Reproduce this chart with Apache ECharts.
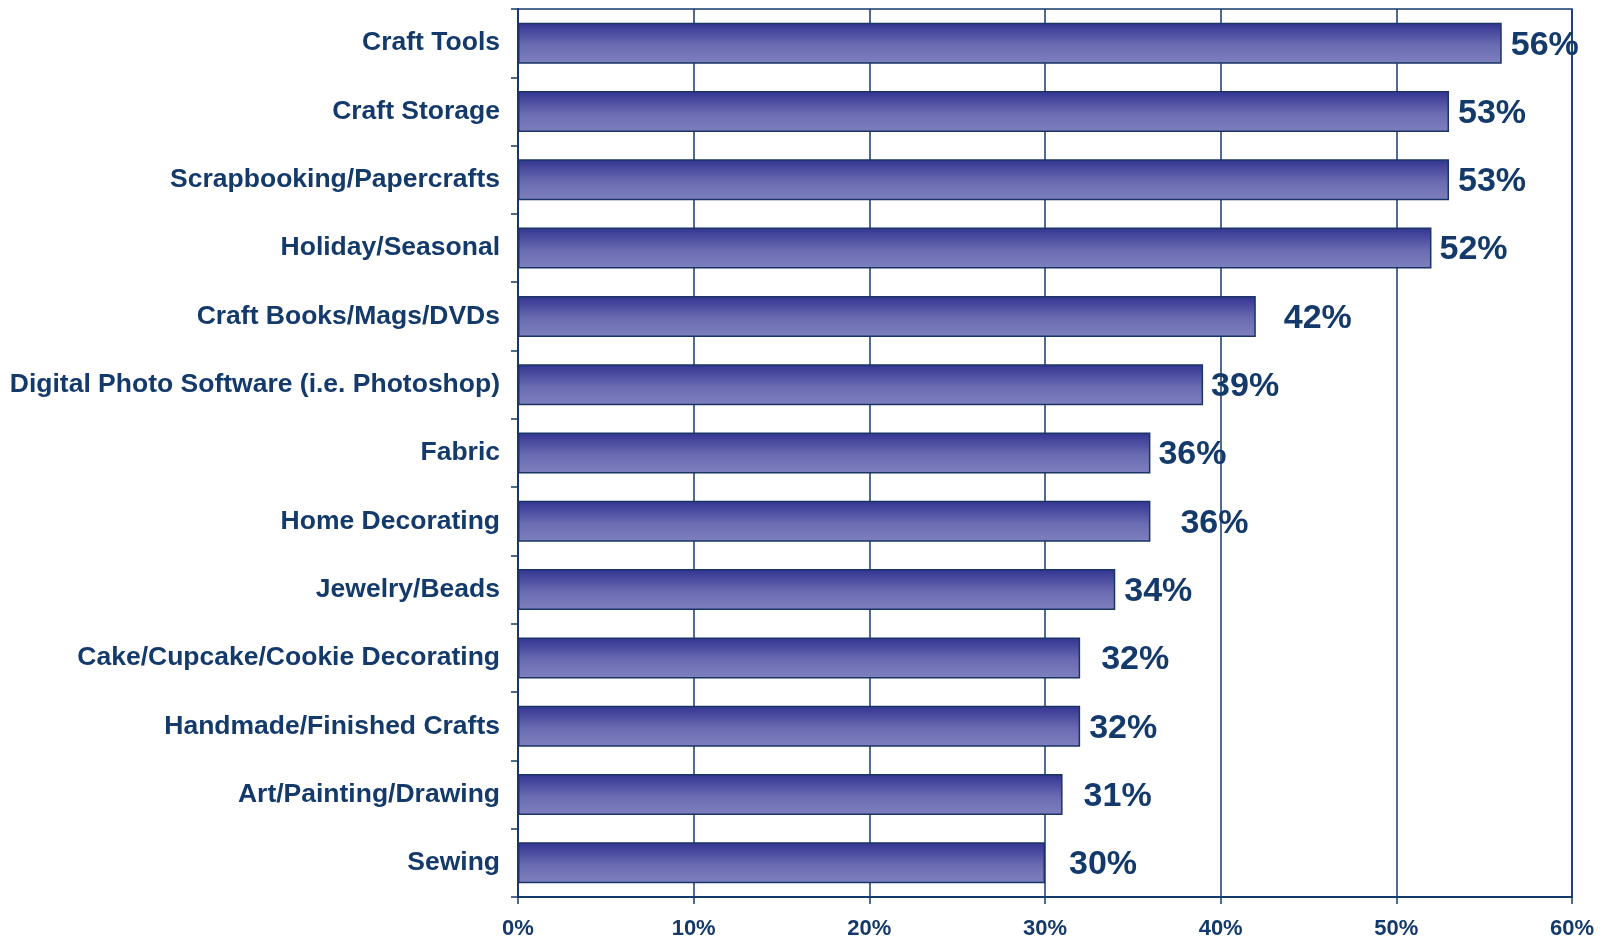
<!DOCTYPE html>
<html>
<head>
<meta charset="utf-8">
<title>Craft categories</title>
<script src="https://cdn.jsdelivr.net/npm/echarts@6/dist/echarts.min.js"></script>
<style>
  html, body { margin: 0; padding: 0; background: #ffffff; }
  #chart { width: 1604px; height: 940px; }
</style>
</head>
<body>
<div id="chart"></div>
<script>
// Categories, top to bottom
const categories = [
  'Craft Tools',
  'Craft Storage',
  'Scrapbooking/Papercrafts',
  'Holiday/Seasonal',
  'Craft Books/Mags/DVDs',
  'Digital Photo Software (i.e. Photoshop)',
  'Fabric',
  'Home Decorating',
  'Jewelry/Beads',
  'Cake/Cupcake/Cookie Decorating',
  'Handmade/Finished Crafts',
  'Art/Painting/Drawing',
  'Sewing'
];

// Share of respondents, in percent
const values = [56, 53, 53, 52, 42, 39, 36, 36, 34, 32, 32, 31, 30];

// Gap between each bar end and its value label (px)
const labelGaps = [9, 9, 9, 8, 28, 8, 8, 30, 9, 21, 9, 21, 24];

// Value axis ticks
const axisMin = 0;
const axisMax = 60;
const axisStep = 10;

const navy = '#143a6b';
const font = '"Liberation Sans", Arial, sans-serif';

const chart = echarts.init(document.getElementById('chart'), null, { renderer: 'canvas' });

chart.setOption({
  animation: false,
  backgroundColor: '#ffffff',
  grid: {
    left: 518, right: 32, top: 9, bottom: 42,
    show: true, borderColor: navy, borderWidth: 1.5, backgroundColor: 'transparent'
  },
  xAxis: {
    type: 'value',
    min: axisMin, max: axisMax, interval: axisStep,
    axisLine: { show: true, lineStyle: { color: navy, width: 2 } },
    axisTick: { show: true, length: 7, lineStyle: { color: navy, width: 1.5 } },
    splitLine: { show: true, lineStyle: { color: navy, width: 1.5 } },
    axisLabel: {
      margin: 21,
      formatter: v => v + '%',
      color: navy, fontFamily: font, fontWeight: 'bold', fontSize: 22
    }
  },
  yAxis: {
    type: 'category',
    data: categories,
    inverse: true,
    axisLine: { show: true, lineStyle: { color: navy, width: 2 } },
    axisTick: { show: true, length: 7, lineStyle: { color: navy, width: 1.5 } },
    axisLabel: {
      margin: 18,
      color: navy, fontFamily: font, fontWeight: 'bold', fontSize: 26.5
    }
  },
  series: [{
    type: 'bar',
    barWidth: '60%',
    data: values.map((v, i) => ({
      value: v,
      label: { distance: labelGaps[i] }
    })),
    itemStyle: {
      borderColor: '#1a3466',
      borderWidth: 1.5,
      color: new echarts.graphic.LinearGradient(0, 0, 0, 1, [
        { offset: 0, color: '#323391' },
        { offset: 0.55, color: '#6b6bb2' },
        { offset: 1, color: '#7f80bf' }
      ])
    },
    label: {
      show: true,
      position: 'right',
      offset: [0, 2],
      formatter: p => p.value + '%',
      color: navy, fontFamily: font, fontWeight: 'bold', fontSize: 34
    }
  }]
});
</script>
</body>
</html>
